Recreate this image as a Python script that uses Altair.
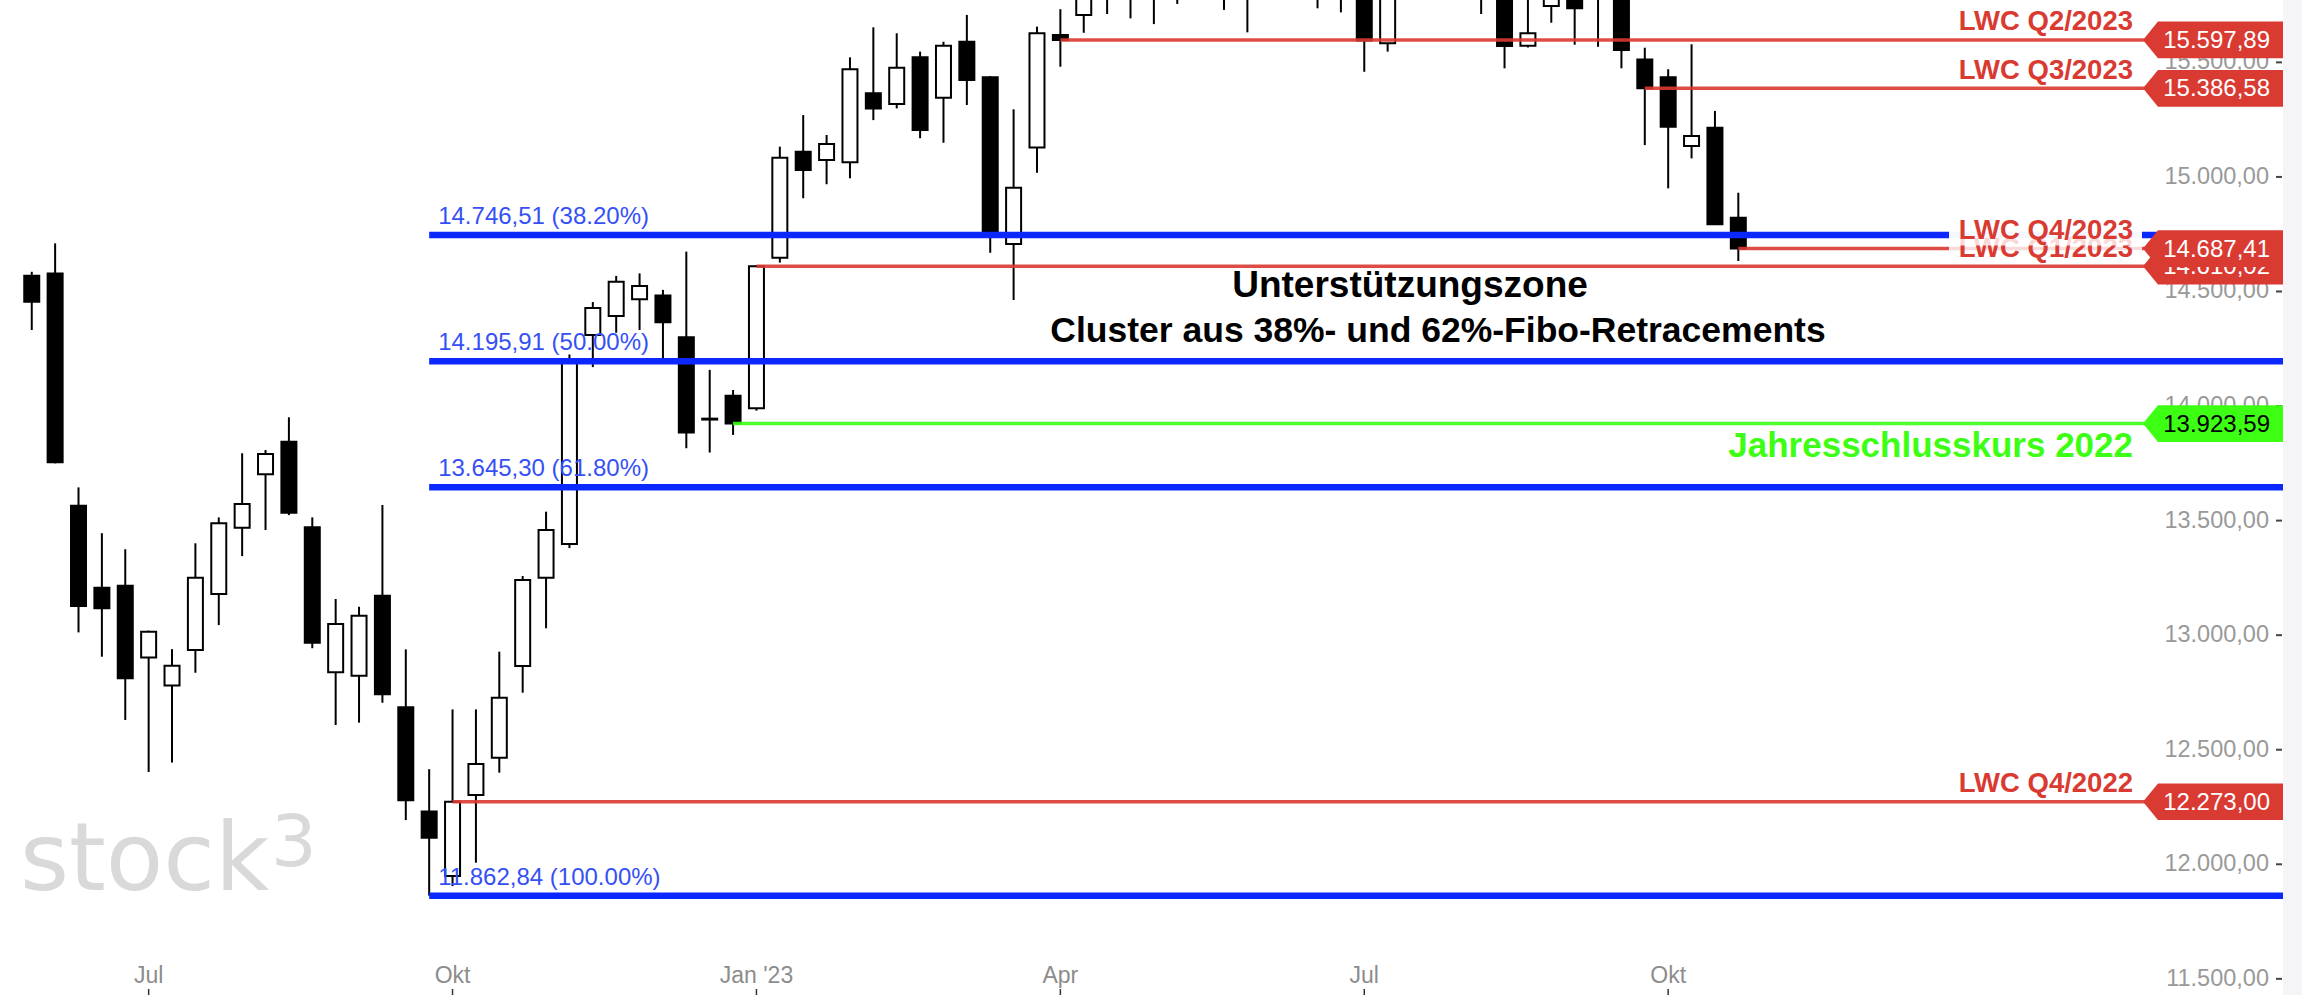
import altair as alt
import pandas as pd

# ---------------- data ----------------
week_start = pd.date_range("2022-05-30", periods=74, freq="7D").strftime("%Y-%m-%d").tolist()

open_ = [14569, 14579, 13565, 13207, 13216, 12903, 12780, 12935, 13180, 13469,
         13702, 13844, 13471, 12838, 12823, 13172, 12685, 12230, 11949, 12302,
         12465, 12865, 13251, 13398, 14310, 14393, 14466, 14482, 14300, 13945,
         14045, 13990, 14647, 15110, 15074, 15064, 15365, 15318, 15522, 15346,
         15590, 15435, 14707, 15128, 15619, 15707, 15800, 15850, 15920, 15950,
         15920, 16260, 15980, 16040, 15950, 16300, 15830, 16100, 15583, 16100,
         16180, 16460, 15950, 15900, 15573, 15746, 15850, 15790, 15890, 15513,
         15435, 15135, 15215, 14822]
high = [14586, 14710, 13645, 13445, 13375, 13020, 12939, 13401, 13514, 13794,
        13808, 13951, 13514, 13158, 13124, 13568, 12938, 12415, 12676, 12676,
        12928, 13258, 13539, 14225, 14454, 14568, 14579, 14507, 14674, 14158,
        14070, 14615, 15132, 15270, 15183, 15522, 15653, 15627, 15547, 15590,
        15707, 15440, 15295, 15656, 15732, 15830, 15916, 15925, 15970, 16000,
        16331, 16300, 16080, 16100, 16427, 16340, 16180, 16150, 16110, 16250,
        16470, 16529, 16060, 15950, 15800, 15990, 15900, 15950, 15900, 15564,
        15470, 15579, 15288, 14931]
low = [14332, 13750, 13012, 12906, 12630, 12403, 12444, 12836, 13044, 13345,
       13459, 13524, 12943, 12608, 12618, 12705, 12193, 11862.84, 11905, 12007,
       12400, 12749, 13030, 13380, 14170, 14320, 14332, 14208, 13816, 13797,
       13874, 13980, 14626, 14907, 14968, 14994, 15248, 15299, 15169, 15149,
       15314, 14669, 14463, 15018, 15481, 15629, 15711, 15692, 15667, 15755,
       15880, 15729, 15631, 15850, 15900, 15736, 15718, 15459, 15547, 15950,
       16100, 15820, 15711, 15474, 15565, 15673, 15577, 15568, 15474, 15139,
       14950, 15081, 14790, 14633]
close = [14455, 13755, 13127, 13117, 12812, 13015, 12867, 13251, 13488, 13572,
         13791, 13534, 12967, 13049, 13085, 12742, 12280, 12116, 12273, 12438,
         12727, 13241, 13459, 14190, 14428, 14543, 14524, 14366, 13885, 13941,
         13923.59, 14610.02, 15084, 15030, 15144, 15470, 15299, 15477, 15205, 15573,
         15423, 14758, 14953, 15627, 15597.89, 15807, 15881, 15922, 15961, 15914,
         16275, 15983, 16051, 15949, 16357, 15830, 16148, 15595, 16105, 16177,
         16469, 15952, 15832, 15571, 15627, 15840, 15736, 15893, 15554, 15386.58,
         15219, 15179, 14793, 14687.41]

fib_values = [14746.51, 14195.91, 13645.30, 11862.84]
fib_labels = ["14.746,51 (38.20%)", "14.195,91 (50.00%)", "13.645,30 (61.80%)", "11.862,84 (100.00%)"]
fib_start = "2022-09-26"

lwc_names = ["LWC Q4/2022", "LWC Q1/2023", "LWC Q2/2023", "LWC Q3/2023", "LWC Q4/2023"]
lwc_values = [12273.00, 14610.02, 15597.89, 15386.58, 14687.41]
lwc_texts = ["12.273,00", "14.610,02", "15.597,89", "15.386,58", "14.687,41"]
lwc_start = ["2022-10-03", "2023-01-02", "2023-04-03", "2023-09-25", "2023-10-23"]

ys_name = "Jahresschlusskurs 2022"
ys_value = 13923.59
ys_text = "13.923,59"
ys_start = "2022-12-26"

zone_text = ["Unterstützungszone", "Cluster aus 38%- und 62%-Fibo-Retracements"]
watermark = ["stock", "3"]

x_tick_dates = ["2022-07-04", "2022-10-03", "2023-01-02", "2023-04-03", "2023-07-03", "2023-10-02"]
x_tick_labels = ["Jul", "Okt", "Jan '23", "Apr", "Jul", "Okt"]
y_tick_values = [11500, 12000, 12500, 13000, 13500, 14000, 14500, 15000, 15500]
y_tick_labels = ["11.500,00", "12.000,00", "12.500,00", "13.000,00", "13.500,00",
                 "14.000,00", "14.500,00", "15.000,00", "15.500,00"]

# ---------------- styling ----------------
W, H = 2283, 995
FONT = "Liberation Sans"
BLUE = "#0a28ff"
BLUE_TXT = "#3550f5"
RED = "#d93a32"
GREEN = "#3cff14"

candles = pd.DataFrame({"week": week_start, "open": open_, "high": high,
                        "low": low, "close": close})
candles["body"] = ["white" if c >= o else "black" for o, c in zip(open_, close)]

fib = pd.DataFrame({"value": fib_values, "label": fib_labels, "start": fib_start})
lines = pd.DataFrame({
    "name": lwc_names + [ys_name],
    "value": lwc_values + [ys_value],
    "vtext": lwc_texts + [ys_text],
    "start": lwc_start + [ys_start],
    "kind": ["lwc"] * 5 + ["ys"],
    "group": ["A", "A", "B", "B", "B", "A"],
})
lines["box"] = [RED] * 5 + [GREEN]
lines["tcol"] = ["white"] * 5 + ["black"]

xticks = pd.DataFrame({"date": x_tick_dates, "label": x_tick_labels})
yticks = pd.DataFrame({"value": y_tick_values, "label": y_tick_labels})

x_scale = alt.Scale(type="utc", nice=False, domain=[
    alt.DateTime(year=2022, month=5, date=21, hours=23, minutes=45, utc=True),
    alt.DateTime(year=2024, month=4, date=1, hours=14, minutes=24, utc=True)])
y_scale = alt.Scale(domain=[11429.5, 15772.2], nice=False, zero=False)


def X(f):
    return alt.X(f, scale=x_scale, axis=None)


def Y(f):
    return alt.Y(f, scale=y_scale, axis=None)


# ---- axis (drawn from tick arrays through the scales) ----
y_lab = alt.Chart(yticks).mark_text(font=FONT, fontSize=23.5, color="#999999", align="right",
                                    baseline="middle").encode(
    x=alt.value(2269), y=Y("value:Q"), text="label:N")
y_tck = alt.Chart(yticks).mark_rule(color="#444444", strokeWidth=2).encode(
    x=alt.value(2276), x2=alt.value(2282), y=Y("value:Q"))
x_lab = alt.Chart(xticks).mark_text(font=FONT, fontSize=23, color="#8c8c8c", align="center",
                                    baseline="alphabetic").encode(
    x=X("date:T"), y=alt.value(983), text="label:N")
x_tck = alt.Chart(xticks).mark_rule(color="#333333", strokeWidth=1.5).encode(
    x=X("date:T"), y=alt.value(989), y2=alt.value(995))

base = alt.Chart(candles)
wicks = base.mark_rule(color="black", strokeWidth=2, clip=True).encode(
    x=X("week:T"), y=Y("low:Q"), y2="high:Q")
bodies = base.mark_bar(size=15, stroke="black", strokeWidth=2, clip=True).encode(
    x=X("week:T"), y=Y("open:Q"), y2="close:Q",
    fill=alt.Fill("body:N", scale=None))

wm = pd.DataFrame({"t": watermark})
wm1 = alt.Chart(wm).transform_filter(alt.datum.t == watermark[0]).mark_text(
    font="DejaVu Sans", fontSize=94, color="#d9d9d9", align="left", baseline="alphabetic").encode(
    x=alt.value(20), y=alt.value(890), text="t:N")
wm2 = alt.Chart(wm).transform_filter(alt.datum.t == watermark[1]).mark_text(
    font="DejaVu Sans", fontSize=72, color="#d9d9d9", align="left", baseline="alphabetic").encode(
    x=alt.value(271), y=alt.value(866), text="t:N")

fib_lines = alt.Chart(fib).mark_rule(color=BLUE, strokeWidth=6.5).encode(
    x=X("start:T"), x2=alt.value(W), y=Y("value:Q"))
fib_text = alt.Chart(fib).mark_text(font=FONT, fontSize=24, color=BLUE_TXT, align="left",
                                    baseline="alphabetic", dx=9, dy=-11).encode(
    x=X("start:T"), y=Y("value:Q"), text="label:N")

lvl_lines = alt.Chart(lines).mark_rule(strokeWidth=3.5, opacity=0.9).encode(
    x=X("start:T"), x2=alt.value(W), y=Y("value:Q"),
    color=alt.Color("box:N", scale=None))

bg_path = "M-1,-0.176L1,-0.176L1,0.176L-1,0.176Z"
arrow_path = "M-1,0L-0.786,-0.262L1,-0.262L1,0.262L-0.786,0.262Z"


def label_stack(group):
    src = alt.Chart(lines).transform_filter(alt.datum.group == group)
    lwc = src.transform_filter(alt.datum.kind == "lwc")
    bg = lwc.mark_point(shape=bg_path, size=193 ** 2, filled=True, color="white",
                        opacity=0.8, strokeWidth=0, yOffset=-20).encode(
        x=alt.value(2045.5), y=Y("value:Q"))
    txt = lwc.mark_text(font=FONT, fontSize=27.5, fontWeight="bold", color=RED,
                        align="right", baseline="alphabetic", dy=-9.5).encode(
        x=alt.value(2133), y=Y("value:Q"), text="name:N")
    box = src.mark_point(shape=arrow_path, size=140 ** 2, filled=True, opacity=1,
                         strokeWidth=0).encode(
        x=alt.value(2213), y=Y("value:Q"), color=alt.Color("box:N", scale=None))
    btxt = src.mark_text(font=FONT, fontSize=24, align="right", baseline="middle", dy=1).encode(
        x=alt.value(2270), y=Y("value:Q"), text="vtext:N", color=alt.Color("tcol:N", scale=None))
    return [bg, txt, box, btxt]


ys_label = alt.Chart(lines).transform_filter(alt.datum.kind == "ys").mark_text(
    font=FONT, fontSize=35, fontWeight="bold", color=GREEN, align="right",
    baseline="alphabetic", dy=33).encode(x=alt.value(2133), y=Y("value:Q"), text="name:N")

zt = pd.DataFrame({"t": zone_text})
zone1 = alt.Chart(zt).transform_filter(alt.datum.t == zone_text[0]).mark_text(
    font=FONT, fontSize=37, fontWeight="bold", color="black", align="center",
    baseline="alphabetic").encode(x=alt.value(1410), y=alt.value(297), text="t:N")
zone2 = alt.Chart(zt).transform_filter(alt.datum.t == zone_text[1]).mark_text(
    font=FONT, fontSize=35.5, fontWeight="bold", color="black", align="center",
    baseline="alphabetic").encode(x=alt.value(1438), y=alt.value(342), text="t:N")

chart = alt.layer(
    wm1, wm2, y_lab, y_tck, x_lab, x_tck, wicks, bodies, fib_lines, lvl_lines, fib_text,
    ys_label, zone1, zone2, *label_stack("A"), *label_stack("B")
).properties(
    width=W, height=H, autosize=alt.AutoSizeParams(type="none"),
    padding={"left": 0, "top": 0, "right": 19, "bottom": 0},
    background="#f5f5f7"
).configure_view(fill="white", strokeWidth=0)

chart.save("out.html", embed_options={"renderer": "svg", "actions": False})
